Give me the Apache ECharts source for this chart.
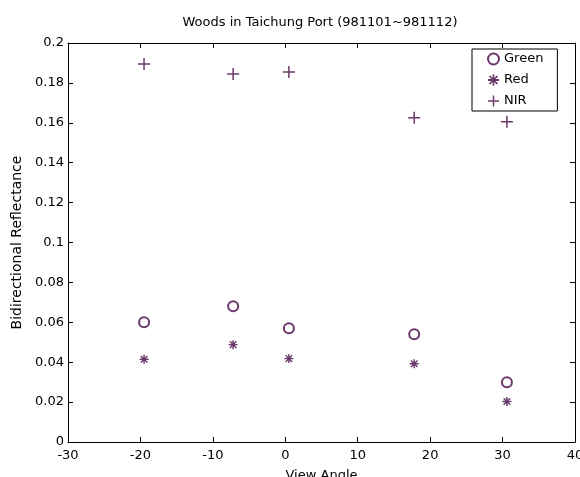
<!DOCTYPE html>
<html>
<head>
<meta charset="utf-8">
<script src="https://cdn.jsdelivr.net/npm/echarts@6/dist/echarts.min.js"></script>
<style>html,body{margin:0;padding:0;background:#fff;}#c{width:580px;height:477px;}</style>
</head>
<body>
<div id="c"></div>
<script>
const titleText = 'Woods in Taichung Port (981101~981112)';
const viewAngles = [-19.5, -7.2, 0.5, 17.8, 30.6];
const greenVals = [0.060, 0.068, 0.057, 0.054, 0.030];
const redVals = [0.0415, 0.0488, 0.0418, 0.0392, 0.0203];
const nirVals = [0.1895, 0.1845, 0.1855, 0.1625, 0.1605];
const seriesNames = ['Green', 'Red', 'NIR'];
const yTickLabels = ['0','0.02','0.04','0.06','0.08','0.1','0.12','0.14','0.16','0.18','0.2'];
const xTickLabels = ['-30','-20','-10','0','10','20','30','40'];

const COLOR = '#450845';
const FONT = 'DejaVu Sans';
const plusPath = 'path://M5.25,0h1.5v12h-1.5z M0,5.25h12v1.5h-12z';
const starPath = 'path://M4.2,0h1.6v10h-1.6z M0,4.2h10v1.6h-10z M0.8,1.9L1.9,0.8L9.2,8.1L8.1,9.2z M8.1,0.8L9.2,1.9L1.9,9.2L0.8,8.1z';

function pts(vals){ return viewAngles.map((x,i)=>[x, vals[i]]); }

const chart = echarts.init(document.getElementById('c'), null, {renderer:'canvas'});
function axisCommon(){
  return {
    axisLine:{show:true, onZero:false, lineStyle:{color:'#000', width:1}},
    axisTick:{show:true, inside:true, length:5, lineStyle:{color:'#000'}},
    splitLine:{show:false}
  };
}
chart.setOption({
  animation:false,
  backgroundColor:'#fff',
  title:{text:titleText, left:320, top:16, textAlign:'center', padding:0,
    textStyle:{fontFamily:FONT, fontSize:13, fontWeight:'normal', color:'#000'}},
  legend:{
    data:seriesNames, orient:'vertical', left:472, top:49,
    backgroundColor:'#fff', borderColor:'#000', borderWidth:1,
    padding:[0,14,0,15], itemWidth:11, itemHeight:11, itemGap:1, itemTextGap:16,
    textStyle:{fontFamily:FONT, fontSize:13, color:'#000', lineHeight:20}
  },
  grid:{left:68, right:5, top:43, bottom:35, containLabel:false, outerBoundsMode:'none'},
  xAxis:[
    Object.assign(axisCommon(), {type:'value', min:-30, max:40, interval:10, position:'bottom',
      name:'View Angle', nameLocation:'middle', nameGap:27,
      nameTextStyle:{fontFamily:FONT, fontSize:13, color:'#000'},
      axisLabel:{margin:7, fontFamily:FONT, fontSize:13, color:'#000',
        formatter:(v)=>xTickLabels[Math.round((v+30)/10)]}}),
    Object.assign(axisCommon(), {type:'value', min:-30, max:40, interval:10, position:'top',
      axisLabel:{show:false}})
  ],
  yAxis:[
    Object.assign(axisCommon(), {type:'value', min:0, max:0.2, interval:0.02, position:'left',
      name:'Bidirectional Reflectance', nameLocation:'middle', nameGap:43, nameRotate:90,
      nameTextStyle:{fontFamily:FONT, fontSize:14, color:'#000'},
      axisLabel:{margin:4, fontFamily:FONT, fontSize:13, color:'#000',
        formatter:(v)=>yTickLabels[Math.round(v/0.02)]}}),
    Object.assign(axisCommon(), {type:'value', min:0, max:0.2, interval:0.02, position:'right',
      axisLabel:{show:false}})
  ],
  series:[
    {name:'Green', type:'scatter', data:pts(greenVals), symbol:'emptyCircle', symbolSize:10,
      itemStyle:{color:COLOR, borderColor:COLOR, borderWidth:1.1}},
    {name:'Red', type:'scatter', data:pts(redVals), symbol:starPath, symbolSize:9,
      itemStyle:{color:COLOR, borderWidth:0}},
    {name:'NIR', type:'scatter', data:pts(nirVals), symbol:plusPath, symbolSize:12,
      itemStyle:{color:COLOR, borderWidth:0}}
  ]
});
</script>
</body>
</html>
